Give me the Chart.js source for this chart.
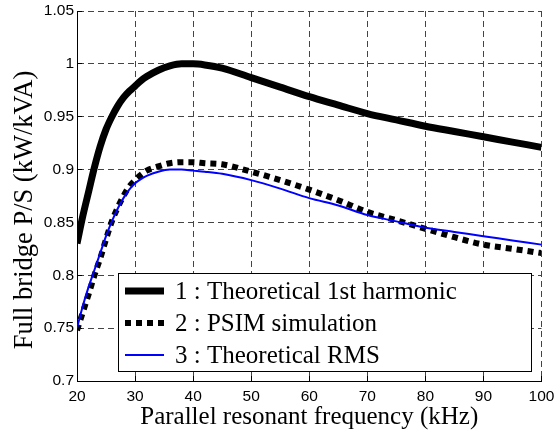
<!DOCTYPE html>
<html>
<head>
<meta charset="utf-8">
<script src="https://cdn.jsdelivr.net/npm/chart.js@4"></script>
<style>
  html, body { margin: 0; padding: 0; background: #fff; }
  #wrap { width: 555px; height: 438px; }
</style>
</head>
<body>
<div id="wrap"><canvas id="chart"></canvas></div>
<script>
// values
const freq = [20, 21, 22, 23, 24, 25, 26, 27, 28, 29, 30, 31, 32, 34, 36, 38, 40, 42, 45, 50, 55, 60, 65, 70, 75, 80, 85, 90, 95, 100];
const firstHarmonic = [0.83, 0.856, 0.879, 0.902, 0.922, 0.938, 0.95, 0.96, 0.968, 0.974, 0.979, 0.984, 0.988, 0.994, 0.998, 1.0, 1.0, 0.999, 0.996, 0.987, 0.978, 0.969, 0.961, 0.953, 0.947, 0.941, 0.936, 0.931, 0.926, 0.921];
const psim = [0.748, 0.765, 0.782, 0.8, 0.816, 0.834, 0.851, 0.864, 0.875, 0.884, 0.89, 0.895, 0.899, 0.903, 0.906, 0.907, 0.907, 0.906, 0.905, 0.898, 0.89, 0.881, 0.871, 0.86, 0.852, 0.844, 0.836, 0.829, 0.825, 0.821];
const rms = [0.75, 0.771, 0.789, 0.805, 0.821, 0.837, 0.851, 0.863, 0.873, 0.881, 0.887, 0.891, 0.894, 0.898, 0.9, 0.9, 0.899, 0.898, 0.896, 0.89, 0.882, 0.873, 0.866, 0.857, 0.851, 0.845, 0.841, 0.837, 0.833, 0.829];
const seriesLabels = ["1 : Theoretical 1st harmonic", "2 : PSIM simulation", "3 : Theoretical RMS"];
const xTicks = [20, 30, 40, 50, 60, 70, 80, 90, 100];
const yTicks = [0.7, 0.75, 0.8, 0.85, 0.9, 0.95, 1, 1.05];
const xTitle = "Parallel resonant frequency (kHz)";
const yTitle = "Full bridge P/S (kW/kVA)";

const toPoints = ys => freq.map((f, i) => ({ x: f, y: ys[i] }));

// legend box inside the plot + the y label (sits a bit below the axis centre in the original)
const extras = {
    id: "extras",
    afterDatasetsDraw(chart) {
        const { ctx, chartArea } = chart;
        const left = chartArea.left + 41, top = chartArea.top + 262;
        const w = 413, h = 98;
        ctx.save();
        ctx.fillStyle = "#fff";
        ctx.fillRect(left, top, w, h);
        ctx.strokeStyle = "#000";
        ctx.lineWidth = 1;
        ctx.strokeRect(left + 0.5, top + 0.5, w, h);
        ctx.font = "25px 'Liberation Serif'";
        ctx.textBaseline = "middle";
        ctx.fillStyle = "#000";
        chart.data.datasets.forEach((ds, i) => {
            const y = top + 18 + i * 32;
            ctx.save();
            ctx.strokeStyle = ds.borderColor;
            ctx.lineWidth = ds.borderWidth;
            ctx.lineCap = "butt";
            ctx.setLineDash(ds.borderDash || []);
            ctx.beginPath();
            ctx.moveTo(left + 7, y);
            ctx.lineTo(left + 46, y);
            ctx.stroke();
            ctx.restore();
            ctx.fillText(ds.label, left + 57, y + 1);
        });

        ctx.font = "26.5px 'Liberation Serif'";
        ctx.translate(25, 210);
        ctx.rotate(-Math.PI / 2);
        ctx.textAlign = "center";
        ctx.fillText(yTitle, 0, 0);
        ctx.restore();
    }
};

new Chart(document.getElementById("chart"), {
    type: "line",
    data: {
        datasets: [
            { label: seriesLabels[0], data: toPoints(firstHarmonic), borderColor: "#000", borderWidth: 7, order: 2 },
            { label: seriesLabels[1], data: toPoints(psim), borderColor: "#000", borderWidth: 6, borderDash: [6, 5], borderCapStyle: "butt", order: 1 },
            { label: seriesLabels[2], data: toPoints(rms), borderColor: "#0000ff", borderWidth: 2, order: 0 }
        ]
    },
    options: {
        responsive: true,
        maintainAspectRatio: false,
        animation: false,
        events: [],
        layout: { padding: { top: 11, right: 13.5, left: 0, bottom: 0 } },
        elements: { point: { radius: 0 }, line: { cubicInterpolationMode: "monotone", fill: false } },
        plugins: { legend: { display: false }, tooltip: { enabled: false } },
        scales: {
            x: {
                type: "linear",
                min: 20,
                max: 100,
                afterBuildTicks: axis => { axis.ticks = xTicks.map(v => ({ value: v })); },
                afterFit: axis => { axis.height = 57; axis.paddingLeft = 0; axis.paddingRight = 0; },
                ticks: { color: "#000", padding: 11, font: { family: "'Liberation Sans'", size: 15.5 } },
                grid: { color: "#444", lineWidth: 1, drawTicks: true, tickLength: -5, tickColor: "#000", tickBorderDash: [] },
                border: { display: true, color: "#000", width: 1, dash: [6, 4] },
                title: {
                    display: true,
                    text: xTitle,
                    color: "#000",
                    font: { family: "'Liberation Serif'", size: 25 },
                    padding: { top: 0, bottom: 6 }
                }
            },
            y: {
                type: "linear",
                min: 0.7,
                max: 1.05,
                afterBuildTicks: axis => { axis.ticks = yTicks.map(v => ({ value: v })); },
                afterFit: axis => { axis.width = 77; axis.paddingTop = 0; axis.paddingBottom = 0; },
                ticks: {
                    color: "#000",
                    padding: 8,
                    font: { family: "'Liberation Sans'", size: 15.5 },
                    callback: v => String(Number(v.toFixed(2)))
                },
                grid: { color: "#444", lineWidth: 1, drawTicks: true, tickLength: -5, tickColor: "#000", tickBorderDash: [] },
                border: { display: true, color: "#000", width: 1, dash: [6, 4] },
                title: { display: false }
            }
        }
    },
    plugins: [extras]
});
</script>
</body>
</html>
